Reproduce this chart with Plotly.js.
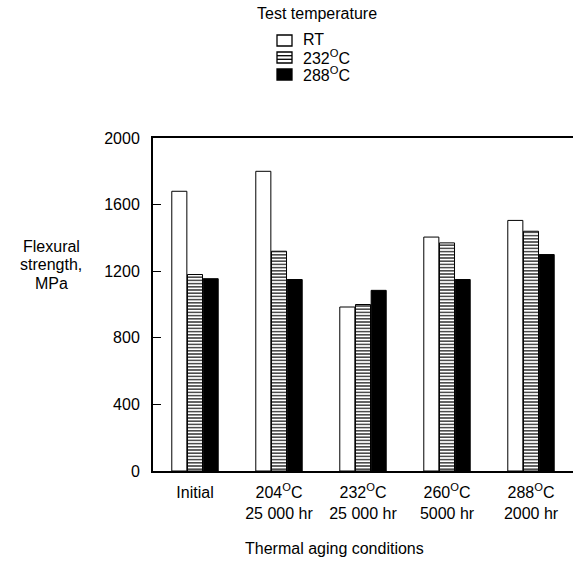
<!DOCTYPE html>
<html>
<head>
<meta charset="utf-8">
<script src="https://cdn.plot.ly/plotly-3.0.1.min.js"></script>
<style>html,body{margin:0;padding:0;background:#fff;}#chart{width:573px;height:563px;}</style>
</head>
<body>
<div id="chart"></div>
<script>
// ---- data ----
var categories = ["Initial", "204C 25000hr", "232C 25000hr", "260C 5000hr", "288C 2000hr"];
var tickLabels = ["Initial", "204<sup>O</sup>C<br>25 000 hr", "232<sup>O</sup>C<br>25 000 hr", "260<sup>O</sup>C<br>5000 hr", "288<sup>O</sup>C<br>2000 hr"];
var seriesNames = ["RT", "232<sup>O</sup>C", "288<sup>O</sup>C"];
var rtValues = [1680, 1800, 985, 1405, 1505];
var t232Values = [1180, 1320, 1000, 1370, 1440];
var t288Values = [1155, 1150, 1085, 1150, 1300];
var yTicks = [0, 400, 800, 1200, 1600, 2000];
var yTitleLines = ["Flexural", "strength,", "MPa"];

var FONT = "'Liberation Sans', Arial, sans-serif";
var W = 573, Hh = 563;
var L = 153, R = 0, T = 138, B = 92;
var PW = W - L - R, PH = Hh - T - B;
function px(x) { return (x - L) / PW; }
function py(y) { return (Hh - B - y) / PH; }

var idx = categories.map(function (c, i) { return i; });

var traces = [
  { type: "bar", name: seriesNames[0], x: idx, y: rtValues,
    marker: { color: "#ffffff", line: { color: "#000", width: 1 } } },
  { type: "bar", name: seriesNames[1], x: idx, y: t232Values,
    marker: { color: "#ffffff", line: { color: "#000", width: 1 },
      pattern: { shape: "-", size: 3.2, solidity: 0.35, fgcolor: "#000", bgcolor: "#fff", fillmode: "replace" } } },
  { type: "bar", name: seriesNames[2], x: idx, y: t288Values,
    marker: { color: "#000000", line: { color: "#000", width: 1 } } }
];

var txtFont = { family: FONT, size: 16, color: "#000" };
var annotations = [
  { xref: "paper", yref: "paper", x: px(334), y: py(548), xanchor: "center", yanchor: "middle",
    text: "Thermal aging conditions", showarrow: false, font: txtFont },
  { xref: "paper", yref: "paper", x: px(317), y: py(14), xanchor: "center", yanchor: "middle",
    text: "Test temperature", showarrow: false, font: txtFont }
];
yTitleLines.forEach(function (t, i) {
  annotations.push({ xref: "paper", yref: "paper", x: px(51), y: py(246 + i * 18.5), xanchor: "center", yanchor: "middle",
    text: t, showarrow: false, font: txtFont });
});
var rowY = [40, 57, 74];
var shapes = [];
seriesNames.forEach(function (n, i) {
  annotations.push({ xref: "paper", yref: "paper", x: px(301), y: py(rowY[i]), xanchor: "left", yanchor: "middle",
    text: n, showarrow: false, font: txtFont });
  var x0 = px(277), x1 = px(292), y0 = py(rowY[i] + 6), y1 = py(rowY[i] - 5);
  shapes.push({ type: "rect", xref: "paper", yref: "paper", x0: x0, x1: x1, y0: y0, y1: y1,
    line: { color: "#000", width: 1.3 }, fillcolor: i === 2 ? "#000" : "#fff" });
  if (i === 1) {
    [-1.8, 1.8].forEach(function (d) {
      shapes.push({ type: "line", xref: "paper", yref: "paper", x0: x0, x1: x1, y0: py(rowY[i] + 0.5 + d), y1: py(rowY[i] + 0.5 + d),
        line: { color: "#000", width: 1.3 } });
    });
  }
});

var layout = {
  width: W, height: Hh,
  margin: { l: L, r: R, t: T, b: B, pad: 0 },
  paper_bgcolor: "#fff", plot_bgcolor: "#fff",
  showlegend: false,
  barmode: "group", bargap: 0.44, bargroupgap: 0.04,
  font: txtFont,
  xaxis: {
    range: [-0.5, 4.5], tickmode: "array", tickvals: idx, ticktext: tickLabels,
    ticks: "", showgrid: false, zeroline: false,
    showline: true, linecolor: "#000", linewidth: 2, mirror: true,
    tickfont: { family: FONT, size: 16, color: "#000" }, ticklabelstandoff: 6
  },
  yaxis: {
    range: [0, 2000], tickmode: "array", tickvals: yTicks,
    ticks: "inside", ticklen: 8, tickwidth: 1, tickcolor: "#000",
    showgrid: false, zeroline: false,
    showline: true, linecolor: "#000", linewidth: 2,
    tickfont: { family: FONT, size: 16, color: "#000" }, ticklabelstandoff: 8
  },
  annotations: annotations,
  shapes: shapes
};

Plotly.newPlot("chart", traces, layout, { displayModeBar: false, staticPlot: true });
</script>
</body>
</html>
